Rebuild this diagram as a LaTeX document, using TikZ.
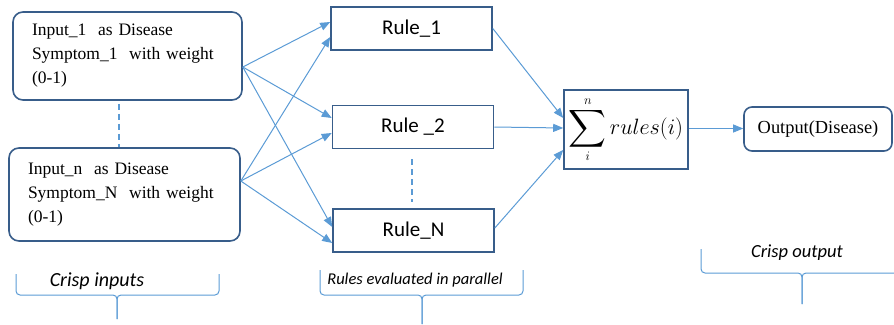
\RequirePackage{fix-cm}
\documentclass[tikz,border=0pt]{standalone}
\usepackage{fontspec}
\usepackage{graphicx}
\setmainfont{Liberation Serif}
\newfontfamily\calibri{Carlito}
\usetikzlibrary{arrows.meta}
\definecolor{boxblue}{HTML}{385D8A}
\definecolor{linkblue}{HTML}{5B9BD5}

\begin{document}
\begin{tikzpicture}[x=1pt, y=-1pt,
  inbox/.style={draw=boxblue, line width=1.6pt, rounded corners=10pt, inner xsep=19pt,
    font=\fontsize{17.5}{24}\selectfont, align=left},
  rulebox/.style={draw=boxblue, line width=1.6pt, minimum width=161pt, minimum height=43pt,
    font=\calibri\fontsize{21}{24}\selectfont},
  link/.style={draw=linkblue, line width=1pt, -{Triangle[length=10pt,width=8pt]}},
  dots/.style={draw=linkblue, line width=1.3pt, dash pattern=on 6pt off 4pt},
  brace/.style={draw=linkblue, line width=1pt, rounded corners=4pt},
  bracetext/.style={font=\calibri\itshape\fontsize{20}{22}\selectfont}]
\useasboundingbox (0,0) rectangle (894,324);

\node[inbox, minimum width=229pt, minimum height=88pt, text width=191pt] (in1) at (127.5,56)
  {Input\_1 \ as Disease\\Symptom\_1 \ with weight\\(0-1)};
\node[inbox, minimum width=231pt, minimum height=93pt, text width=193pt] (inn) at (124.5,194.5)
  {Input\_n \ as Disease\\Symptom\_N \ with weight\\(0-1)};

\node[rulebox] (r1) at (411.5,28.5) {Rule\_1};
\node[rulebox] (r2) at (413,127) {Rule \_2};
\node[rulebox] (rN) at (413.5,230.5) {Rule\_N};

\node[draw=boxblue, line width=1.6pt, minimum width=124pt, minimum height=79pt, inner sep=0pt,
  font=\fontsize{18.5}{22}\selectfont] (sum) at (626,129.5)
  {$\mathop{\vcenter{\hbox{\resizebox*{!}{42pt}{$\displaystyle\sum$}}}}\limits_{i}^{\raisebox{2pt}{$\scriptstyle n$}}
    \vcenter{\hbox{\scalebox{1.2}{$rules(i)$}}}$};
\node[draw=boxblue, line width=1.6pt, rounded corners=8pt, minimum width=148pt, minimum height=44pt,
  font=\fontsize{18.4}{22}\selectfont] (out) at (818,129) {Output(Disease)};

\draw[dots] ([xshift=-8.5pt,yshift=-3pt]in1.south) -- ([xshift=-5.5pt]inn.north);
\draw[dots] ([xshift=-1pt,yshift=-10pt]r2.south) -- ([xshift=-1.5pt,yshift=6pt]rN.north);

\draw[link] ([yshift=-11pt]in1.east) -- ([yshift=6.5pt]r1.west);
\draw[link] ([yshift=-11pt]in1.east) -- ([yshift=9pt]r2.west);
\draw[link] ([yshift=-11pt]in1.east) -- ([yshift=3.5pt]rN.west);
\draw[link] ([yshift=13.5pt]inn.east) -- ([yshift=-8.5pt]r1.west);
\draw[link] ([yshift=13.5pt]inn.east) -- ([yshift=-6pt]r2.west);
\draw[link] ([yshift=13.5pt]inn.east) -- ([yshift=-12.5pt]rN.west);

\draw[link] (r1.east) -- ([yshift=11.5pt]sum.west);
\draw[link] (r2.east) -- ([yshift=1.5pt]sum.west);
\draw[link] ([yshift=2.5pt]rN.east) -- ([yshift=-20.5pt]sum.west);
\draw[link] ([yshift=1pt]sum.east) -- ([yshift=1pt]sum.east -| out.west);

\coordinate (tipin) at (117,295);
\coordinate (tiprules) at (422,295);
\coordinate (tipout) at (802,273);
\draw[brace] (16,274) |- (tipin) -- (117,319);
\draw[brace] (219,274) |- (tipin) -- (117,319);
\draw[brace] (320,270) |- (tiprules) -- (422,324);
\draw[brace] (523,270) |- (tiprules) -- (422,324);
\draw[brace] (701,249) |- (tipout) -- (802,304);
\draw[brace] (895,273) -- (tipout) -- (802,304);

\node[bracetext] (lblin) at (97,281) {Crisp inputs};
\node[bracetext, font=\calibri\itshape\fontsize{16.5}{18}\selectfont] (lblrules) at (415,280) {Rules evaluated in parallel};
\node[bracetext, font=\calibri\itshape\fontsize{18.5}{20}\selectfont] (lblout) at (797,253) {Crisp output};
\end{tikzpicture}
\end{document}
